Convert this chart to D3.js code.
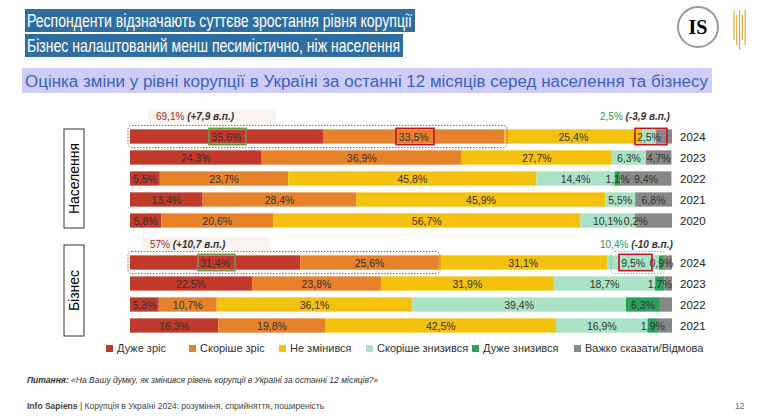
<!DOCTYPE html><html><head><meta charset="utf-8">
<script src="https://cdn.jsdelivr.net/npm/d3@7"></script>
<style>body{margin:0;background:#fff}svg{font-family:"Liberation Sans",Arial,sans-serif}</style></head><body>
<svg id="c" width="764" height="418"></svg>
<script>
const categories=["Дуже зріс","Скоріше зріс","Не змінився","Скоріше знизився","Дуже знизився","Важко сказати/Відмова"];
const colors=["#c0392b","#e8822a","#f4c20d","#a9e2c5","#2aa35a","#878787"];
const popYears=["2024","2023","2022","2021","2020"];
const popValues=[[35.6,33.5,25.4,2.5,0,3.0],[24.3,36.9,27.7,6.3,0,4.7],[5.5,23.7,45.8,14.4,1.1,9.4],[13.4,28.4,45.9,5.5,0,6.8],[5.8,20.6,56.7,10.1,0.2,6.6]];
const bizYears=["2024","2023","2022","2021"];
const bizValues=[[31.4,25.6,31.1,9.5,0.9,1.5],[22.5,23.8,31.9,18.7,1.7,1.4],[5.3,10.7,36.1,39.4,6.3,2.2],[16.3,19.8,42.5,16.9,1.9,2.6]];
const hidden={"p0-5":1,"p4-5":1,"b2-5":1,"b0-5":1,"b1-5":1,"b3-5":1};
const svg=d3.select("#c");
const narrow="Liberation Sans Narrow, Liberation Sans";
[["Респонденти відзначають суттєве зростання рівня корупції",9,390],["Бізнес налаштований менш песимістично, ніж населення",34,378]].forEach(t=>{
 svg.append("rect").attr("x",25).attr("y",t[1]).attr("width",t[2]).attr("height",23).attr("fill","#2f6ea3");
 svg.append("text").attr("x",27).attr("y",t[1]+18).attr("fill","#fff").attr("font-size",19).attr("font-family",narrow).attr("textLength",t[2]-5).attr("lengthAdjust","spacingAndGlyphs").text(t[0]);});
svg.append("rect").attr("x",22).attr("y",68).attr("width",690).attr("height",25).attr("fill","#cfcdf7");
svg.append("text").attr("x",25).attr("y",87).attr("fill","#3a62c8").attr("font-size",16).attr("font-family",narrow).attr("textLength",683).attr("lengthAdjust","spacingAndGlyphs").text("Оцінка зміни у рівні корупції в Україні за останні 12 місяців серед населення та бізнесу");
svg.append("circle").attr("cx",698).attr("cy",27).attr("r",20).attr("fill","#fff").attr("stroke","#999").attr("stroke-width",2);
svg.append("text").attr("x",698).attr("y",34).attr("text-anchor","middle").attr("font-size",20).attr("font-weight","bold").attr("font-family","Liberation Serif").text("IS");
[0,4,8,12,16].forEach((d,i)=>svg.append("line").attr("x1",734+d*0.7).attr("x2",734+d*0.7).attr("y1",10+(i%2)*5).attr("y2",40+(i%3)*5).attr("stroke","#d9a93a").attr("stroke-width",1.2));
const x=d3.scaleLinear().domain([0,100]).range([130,672]);
function group(prefix,years,vals,y0,y1){
 const y=d3.scaleBand().domain(years).range([y0,y1]).paddingInner(0.32).paddingOuter(0.16);
 const labels=[];
 years.forEach((yr,i)=>{
  let acc=0;
  vals[i].forEach((v,j)=>{
   const a=acc;acc+=v;if(v<=0)return;
   svg.append("rect").attr("x",x(a)).attr("y",y(yr)).attr("width",x(acc)-x(a)).attr("height",y.bandwidth()).attr("fill",colors[j]);
   if(!hidden[prefix+i+"-"+j])labels.push([x((a+acc)/2),y(yr)+y.bandwidth()/2+4,v]);
  });
  svg.append("text").attr("x",680).attr("y",y(yr)+y.bandwidth()/2+4).attr("font-size",11.5).attr("fill","#222").text(yr);
 });
 labels.forEach(l=>svg.append("text").attr("x",l[0]).attr("y",l[1]).attr("text-anchor","middle").attr("font-size",10.5).attr("fill","#333").attr("font-family",narrow).text(d3.format(".1f")(l[2]).replace(".",",")+"%"));
 return y;
}
const yp=group("p",popYears,popValues,126,231);
const yb=group("b",bizYears,bizValues,252,336);
function side(t,y0,y1){svg.append("rect").attr("x",64).attr("y",y0).attr("width",20).attr("height",y1-y0).attr("fill","#fff").attr("stroke","#333");
 svg.append("text").attr("transform",`translate(79,${(y0+y1)/2}) rotate(-90)`).attr("text-anchor","middle").attr("font-size",14).text(t);}
side("Населення",129,228);side("Бізнес",245,336);
function dashed(x0,x1,yy,h,col){svg.append("rect").attr("x",x0).attr("y",yy).attr("width",x1-x0).attr("height",h).attr("rx",4).attr("fill","none").attr("stroke",col).attr("stroke-dasharray","1.5,1.5");}
function box(x0,x1,yy,h,col){svg.append("rect").attr("x",x0).attr("y",yy).attr("width",x1-x0).attr("height",h).attr("fill","none").attr("stroke",col).attr("stroke-width",1.6);}
function note(xx,yy,a,b,col,bg){
 if(bg)svg.append("rect").attr("x",xx-8).attr("y",yy-11).attr("width",128).attr("height",14).attr("fill","#f9f4ef");
 const t=svg.append("text").attr("x",xx).attr("y",yy).attr("font-size",10);
 t.append("tspan").attr("fill",col).text(a);t.append("tspan").attr("font-style","italic").attr("font-weight","bold").attr("fill","#333").text(" "+b);}
const h=yp.bandwidth();
dashed(128,507,yp("2024")-4,h+8,"#a05050");
box(209,246,yp("2024")-1,h+2,"#6a9a50");
box(396,434,yp("2024")-1,h+2,"#c0141e");
box(635,667,yp("2024")-1,h+2,"#c0141e");
note(156,120,"69,1%","(+7,9 в.п.)","#a02828",true);
note(600,120,"2,5%","(-3,9 в.п.)","#2a9a50",false);
dashed(128,440,yb("2024")-4,h+8,"#a05050");
dashed(611,665,yb("2024")-4,h+8,"#60c090");
box(198,235,yb("2024")-1,h+2,"#6a9a50");
box(619,652,yb("2024")-1,h+2,"#c0141e");
note(150,248,"57%","(+10,7 в.п.)","#a02828",true);
note(600,248,"10,4%","(-10 в.п.)","#2a9a50",false);
const lx=[106,189,279,366,472,574];
categories.forEach((c,i)=>{svg.append("rect").attr("x",lx[i]).attr("y",345).attr("width",7).attr("height",7).attr("fill",colors[i]);
 svg.append("text").attr("x",lx[i]+11).attr("y",352).attr("font-size",11).attr("fill","#333").text(c);});
const q=svg.append("text").attr("x",27).attr("y",383).attr("font-size",8.5).attr("font-style","italic").attr("fill","#333");
q.append("tspan").attr("font-weight","bold").text("Питання:");q.append("tspan").text(" «На Вашу думку, як змінився рівень корупції в Україні за останні 12 місяців?»");
const f=svg.append("text").attr("x",27).attr("y",409).attr("font-size",8.5).attr("fill","#444");
f.append("tspan").attr("font-weight","bold").text("Info Sapiens");f.append("tspan").text(" | Корупція в Україні 2024: розуміння, сприйняття, поширеність");
svg.append("text").attr("x",735).attr("y",409).attr("font-size",8.5).attr("fill","#666").text("12");
</script></body></html>
